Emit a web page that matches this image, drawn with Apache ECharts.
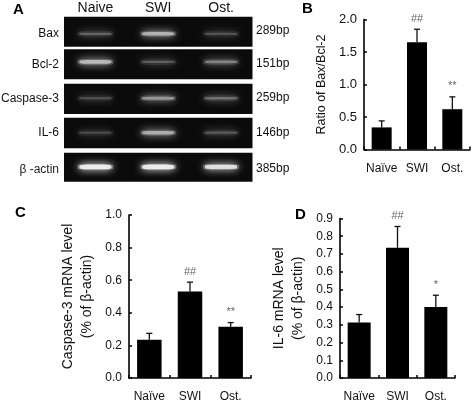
<!DOCTYPE html>
<html><head><meta charset="utf-8">
<style>html,body{margin:0;padding:0;background:#fff}#c{width:472px;height:403px}</style>
<script src="https://cdn.jsdelivr.net/npm/echarts@6/dist/echarts.min.js"></script>
</head><body><div id="c"></div>
<script>
const FONT = '"Liberation Sans", Arial, sans-serif';
// Panel A
const lanes = ['Naive', 'SWI', 'Ost.'];
const genes = ['Bax', 'Bcl-2', 'Caspase-3', 'IL-6', 'β -actin'];
const sizes = ['289bp', '151bp', '259bp', '146bp', '385bp'];
const baxBand = [0.38, 0.74, 0.32];
const bcl2Band = [0.78, 0.36, 0.52];
const casp3Band = [0.3, 0.62, 0.44];
const il6Band = [0.27, 0.72, 0.34];
const actinBand = [1.05, 1.05, 0.95];
const bandSets = [baxBand, bcl2Band, casp3Band, il6Band, actinBand];
const bandPos = [0.43, 0.58, 0.52, 0.51, 0.51];
// Panels B, C, D
const cats = ['Naïve', 'SWI', 'Ost.'];
const bVals = [0.34, 1.65, 0.62], bErr = [0.44, 1.85, 0.81], bMarks = ['', '##', '**'];
const cVals = [0.235, 0.53, 0.315], cErr = [0.274, 0.588, 0.34], cMarks = ['', '##', '**'];
const dVals = [0.313, 0.735, 0.40], dErr = [0.358, 0.855, 0.467], dMarks = ['', '##', '*'];
const gelRows = [[16.7, 30], [49.3, 30], [83.7, 30.3], [117.7, 30.6], [152.7, 29]];
const geneY = [34, 65, 99, 133, 170];
const sizeY = [31, 64, 98, 133, 169];

const grid = [], xAxis = [], yAxis = [], series = [], graphic = [];
const ink = '#111';

gelRows.forEach((r, i) => {
  const idx = grid.length;
  grid.push({left: 64, width: 188.5, top: r[0], height: r[1], show: true, backgroundColor: '#0b0b0b', borderWidth: 0});
  xAxis.push({gridIndex: idx, type: 'category', data: lanes, show: i === 0, position: 'top',
    axisLine: {show: false}, axisTick: {show: false},
    axisLabel: {color: ink, fontFamily: FONT, fontSize: 14, margin: 2, interval: 0}});
  yAxis.push({gridIndex: idx, type: 'value', min: 0, max: 1, show: false});
  const data = bandSets[i].map((v, j) => [lanes[j], bandPos[i], v]);
  const grey = (v, k) => { const g = Math.min(255, Math.round((25 + 230 * v) * k)); return `rgb(${g},${g},${g})`; };
  series.push({type: 'scatter', xAxisIndex: idx, yAxisIndex: idx, symbol: 'roundRect', silent: true, z: 2,
    data: data.map(d => ({value: d, symbolSize: [36, 6],
      itemStyle: {color: grey(d[2], 0.42), shadowColor: grey(d[2], 0.5), shadowBlur: 10}}))});
  series.push({type: 'scatter', xAxisIndex: idx, yAxisIndex: idx, symbol: 'roundRect', silent: true, z: 3,
    data: data.map(d => ({value: d, symbolSize: [32, 1 + 3.5 * d[2]],
      itemStyle: {color: grey(d[2], 1), shadowColor: grey(d[2], 0.95), shadowBlur: 7}}))});
  graphic.push({type: 'text', right: 472 - 59, top: geneY[i] - 6,
    style: {text: genes[i], font: '12px ' + FONT, fill: i === 4 ? '#222' : ink}});
  graphic.push({type: 'text', left: 256, top: sizeY[i] - 6,
    style: {text: sizes[i], font: '12px ' + FONT, fill: ink}});
});

function panel(o) {
  const idx = grid.length;
  grid.push({left: o.left, width: o.width, top: o.top, height: o.height});
  xAxis.push({gridIndex: idx, type: 'category', data: cats,
    axisLine: {onZero: false, lineStyle: {color: '#000', width: 1.6}},
    axisTick: {show: true, inside: true, interval: 0, length: 3, lineStyle: {color: '#000', width: 1.5}},
    axisLabel: {color: ink, fontFamily: FONT, fontSize: 12, margin: 13, interval: 0}});
  yAxis.push({gridIndex: idx, type: 'value', min: 0, max: o.max, interval: o.interval,
    splitLine: {show: false},
    axisLine: {show: true, lineStyle: {color: '#000', width: 1.6}},
    axisTick: {show: true, inside: true, length: 3, lineStyle: {color: '#000', width: 1.5}},
    axisLabel: {color: ink, fontFamily: FONT, fontSize: o.tickSize, margin: 7, formatter: v => v.toFixed(1)},
    name: o.name, nameLocation: 'middle', nameGap: o.nameGap, nameRotate: 90,
    nameTextStyle: {color: ink, fontFamily: FONT, fontSize: o.nameSize, lineHeight: 19}});
  series.push({type: 'bar', xAxisIndex: idx, yAxisIndex: idx, data: o.vals, barWidth: o.barWidth,
    itemStyle: {color: '#000'}, silent: true, z: 3});
  series.push({type: 'custom', xAxisIndex: idx, yAxisIndex: idx, silent: true, z: 2,
    data: o.vals.map((v, i) => [i, v, o.err[i]]),
    encode: {x: 0, y: [1, 2]},
    renderItem(params, api) {
      const a = api.coord([api.value(0), api.value(1)]);
      const b = api.coord([api.value(0), api.value(2)]);
      const ls = {stroke: '#111', lineWidth: 1.3, fill: null};
      return {type: 'group', children: [
        {type: 'line', shape: {x1: a[0], y1: a[1], x2: b[0], y2: b[1]}, style: ls},
        {type: 'line', shape: {x1: b[0] - 3, y1: b[1], x2: b[0] + 3, y2: b[1]}, style: ls},
        {type: 'text', x: b[0], y: b[1] - 5, style: {text: o.marks[params.dataIndex], textAlign: 'center',
          textVerticalAlign: 'bottom', font: '11px ' + FONT, fill: '#666'}}
      ]};
    }});
}
panel({left: 364, width: 106, top: 19.5, height: 130, max: 2, interval: 0.5, vals: bVals, err: bErr, marks: bMarks,
  barWidth: 20, tickSize: 13, name: 'Ratio of Bax/Bcl-2', nameSize: 12.5, nameGap: 33});
panel({left: 129, width: 122, top: 215, height: 164, max: 1, interval: 0.2, vals: cVals, err: cErr, marks: cMarks,
  barWidth: 24.5, tickSize: 12, name: 'Caspase-3 mRNA level\n(% of β-actin)', nameSize: 14, nameGap: 32});
panel({left: 340, width: 115, top: 218.5, height: 160.5, max: 0.9, interval: 0.1, vals: dVals, err: dErr, marks: dMarks,
  barWidth: 23, tickSize: 12, name: 'IL-6 mRNA level\n(% of β-actin)', nameSize: 14, nameGap: 32});

[['A', 13, 2], ['B', 302, 1], ['C', 15, 205], ['D', 295, 207]].forEach(t => {
  graphic.push({type: 'text', left: t[1], top: t[2], style: {text: t[0], font: 'bold 15px ' + FONT, fill: '#000'}});
});

const chart = echarts.init(document.getElementById('c'), null, {renderer: 'canvas'});
chart.setOption({animation: false, backgroundColor: '#fff', grid, xAxis, yAxis, series, graphic});
</script></body></html>
